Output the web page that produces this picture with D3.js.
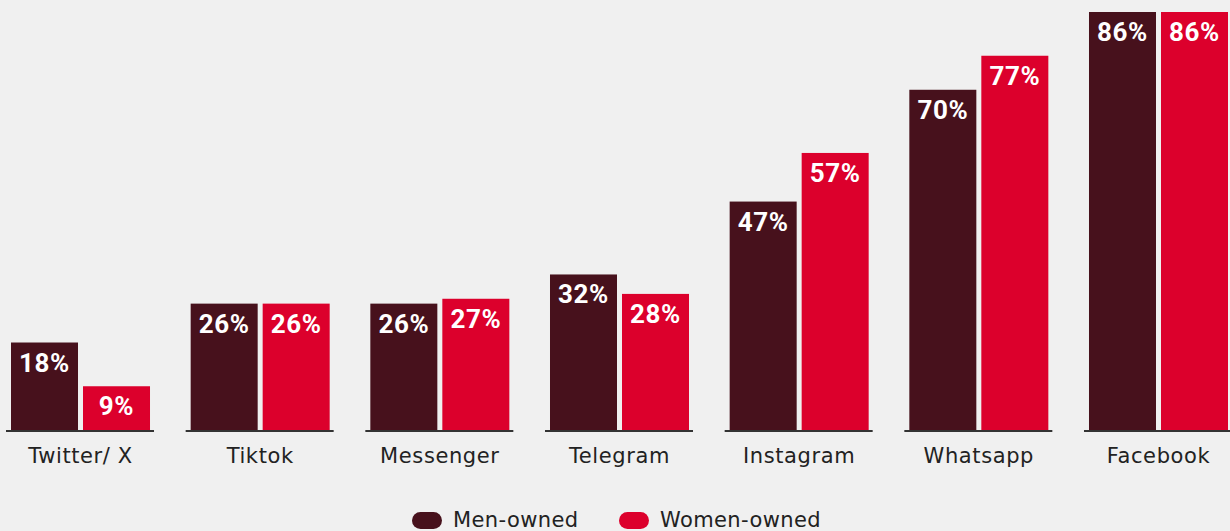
<!DOCTYPE html>
<html>
<head>
<meta charset="utf-8">
<script src="https://cdn.jsdelivr.net/npm/d3@7"></script>
<style>
  body { margin: 0; background: #f0f0f0; }
  svg { display: block; }
</style>
</head>
<body>
<div class="chartHolder"></div>
<script>
// Chart data
const categories = ["Twitter/ X", "Tiktok", "Messenger", "Telegram", "Instagram", "Whatsapp", "Facebook"];
const seriesNames = ["Men-owned", "Women-owned"];
const menOwned = [18, 26, 26, 32, 47, 70, 86];
const womenOwned = [9, 26, 27, 28, 57, 77, 86];
const seriesColors = ["#47111c", "#dc002c"];

const width = 1230;
const height = 531;
const baseline = 430;

const svg = d3
  .select(".chartHolder")
  .append("svg")
  .attr("width", width)
  .attr("height", height);

svg.append("rect").attr("width", width).attr("height", height).attr("fill", "#f0f0f0");

// Scales
const x0 = d3.scaleBand().domain(categories).range([11, 1228]).paddingInner(0.2263).paddingOuter(0);
const x1 = d3.scaleBand().domain(seriesNames).range([0, x0.bandwidth()]).paddingInner(0.0694);
const yScale = d3.scaleLinear().domain([0, 86]).range([baseline, 12]);

const rows = categories.map((c, i) => ({
  category: c,
  values: [
    { key: seriesNames[0], value: menOwned[i], color: seriesColors[0] },
    { key: seriesNames[1], value: womenOwned[i], color: seriesColors[1] },
  ],
}));

const groups = svg
  .selectAll("g.group")
  .data(rows)
  .enter()
  .append("g")
  .attr("class", "group")
  .attr("transform", (d) => `translate(${x0(d.category)}, 0)`);

// Bars
groups
  .selectAll("rect")
  .data((d) => d.values)
  .enter()
  .append("rect")
  .attr("x", (d) => x1(d.key))
  .attr("y", (d) => yScale(d.value))
  .attr("width", x1.bandwidth())
  .attr("height", (d) => baseline - yScale(d.value))
  .attr("fill", (d) => d.color);

// Value labels
groups
  .selectAll("text.value")
  .data((d) => d.values)
  .enter()
  .append("text")
  .attr("class", "value")
  .attr("x", (d) => x1(d.key) + x1.bandwidth() / 2)
  .attr("y", (d) => yScale(d.value) + 29)
  .attr("text-anchor", "middle")
  .attr("fill", "#ffffff")
  .style("font-family", "Roboto, 'Liberation Sans', sans-serif")
  .style("font-weight", "bold")
  .style("font-size", "26px")
  .style("letter-spacing", "0.6px")
  .text((d) => d.value + "%");

// Axis segments under each group
groups
  .append("line")
  .attr("x1", -5)
  .attr("x2", x0.bandwidth() + 4)
  .attr("y1", baseline + 1)
  .attr("y2", baseline + 1)
  .attr("stroke", "#333333")
  .attr("stroke-width", 2);

// Category labels
groups
  .append("text")
  .attr("x", x0.bandwidth() / 2)
  .attr("y", 463)
  .attr("text-anchor", "middle")
  .attr("fill", "#222222")
  .style("font-family", "'DejaVu Sans', sans-serif")
  .style("font-size", "21px")
  .style("letter-spacing", "0.6px")
  .text((d) => d.category);

// Legend
const legendX = [412, 619];
const legend = svg
  .selectAll("g.legend")
  .data(seriesNames)
  .enter()
  .append("g")
  .attr("class", "legend")
  .attr("transform", (d, i) => `translate(${legendX[i]}, 0)`);

legend
  .append("rect")
  .attr("x", 0)
  .attr("y", 512)
  .attr("width", 30)
  .attr("height", 17)
  .attr("rx", 8.5)
  .attr("fill", (d, i) => seriesColors[i]);

legend
  .append("text")
  .attr("x", 41)
  .attr("y", 527)
  .attr("fill", "#222222")
  .style("font-family", "'DejaVu Sans', sans-serif")
  .style("font-size", "21px")
  .style("letter-spacing", "0.4px")
  .text((d) => d);
</script>
</body>
</html>
